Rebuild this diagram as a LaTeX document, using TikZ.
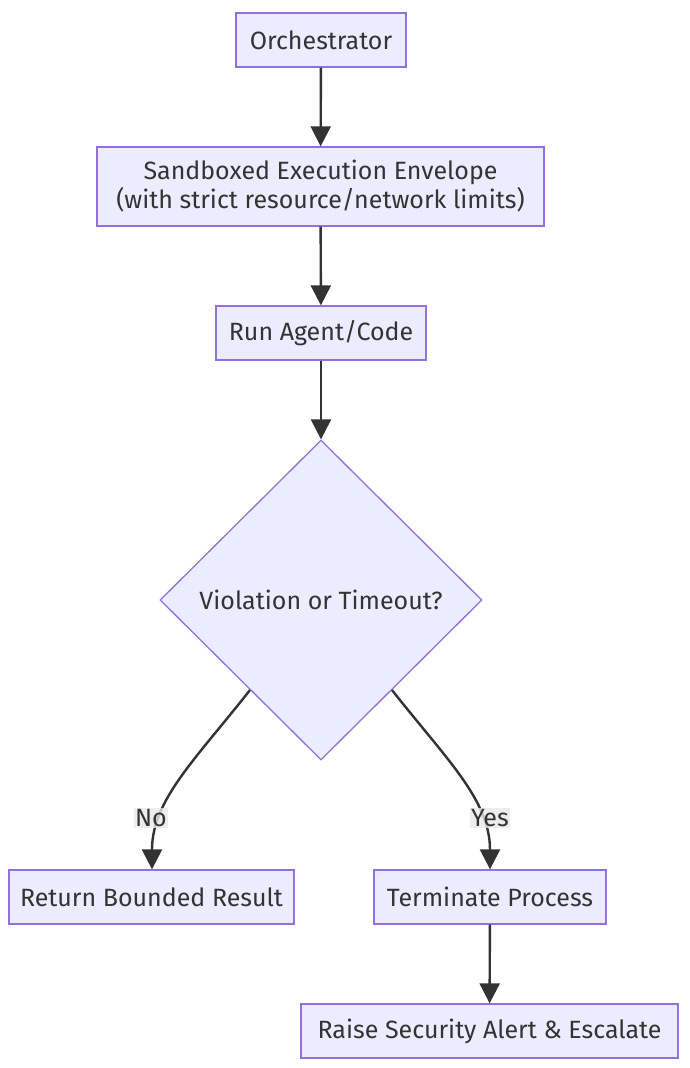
\documentclass[tikz,border=0pt]{standalone}
\usepackage{fontspec}
\setmainfont{Fira Sans}
\usetikzlibrary{arrows.meta,shapes.geometric}
\definecolor{nodefill}{HTML}{ECECFF}
\definecolor{nodeline}{HTML}{9370DB}
\definecolor{edgecol}{HTML}{333333}
\definecolor{lblbg}{HTML}{E8E8E8}
\begin{document}
\begin{tikzpicture}[x=1pt,y=-1pt,
  box/.style={draw=nodeline,fill=nodefill,line width=1.3pt,inner sep=0pt,font=\fontsize{25}{29}\selectfont,text=edgecol,align=center},
  dia/.style={diamond,draw=nodeline,fill=nodefill,line width=1.3pt,inner sep=0pt,minimum width=322pt,minimum height=320pt,aspect=1,font=\fontsize{25}{29}\selectfont,text=edgecol},
  edge/.style={draw=edgecol,line width=2.4pt,-{Triangle[length=20pt,width=20pt]}},
  lbl/.style={fill=lblbg,fill opacity=0.8,text opacity=1,inner sep=1pt,font=\fontsize{25}{29}\selectfont,text=edgecol}]
\useasboundingbox (0,0) rectangle (690,1068);
\node[box,minimum width=170pt,minimum height=54pt] (orch) at (321,40) {Orchestrator};
\node[box,minimum width=447pt,minimum height=79pt] (sand) at (320.5,186.5) {Sandboxed Execution Envelope\\(with strict resource/network limits)};
\node[box,minimum width=210pt,minimum height=54pt] (run) at (321,333) {Run Agent/Code};
\node[dia] (viol) at (321,600) {Violation or Timeout?};
\node[box,minimum width=285pt,minimum height=54pt] (ret) at (151.5,897) {Return Bounded Result};
\node[box,minimum width=232pt,minimum height=54pt] (term) at (490,897) {Terminate Process};
\node[box,minimum width=377pt,minimum height=54pt] (raise) at (489.5,1031) {Raise Security Alert \& Escalate};
\draw[edge] (orch) -- (sand);
\draw[edge] (sand) -- (run);
\draw[edge] (run) -- (viol);
\coordinate (nostart) at (250,690);
\coordinate (yesstart) at (392,690);
\draw[edge] (nostart) .. controls (195,760) and (152,800) .. (ret.north -| 152,0);
\draw[edge] (yesstart) .. controls (447,760) and (490,800) .. (term.north);
\node[lbl] (no) at (151,818) {No};
\node[lbl] (yes) at (490,818) {Yes};
\draw[edge] (term) -- (raise);
\end{tikzpicture}
\end{document}
